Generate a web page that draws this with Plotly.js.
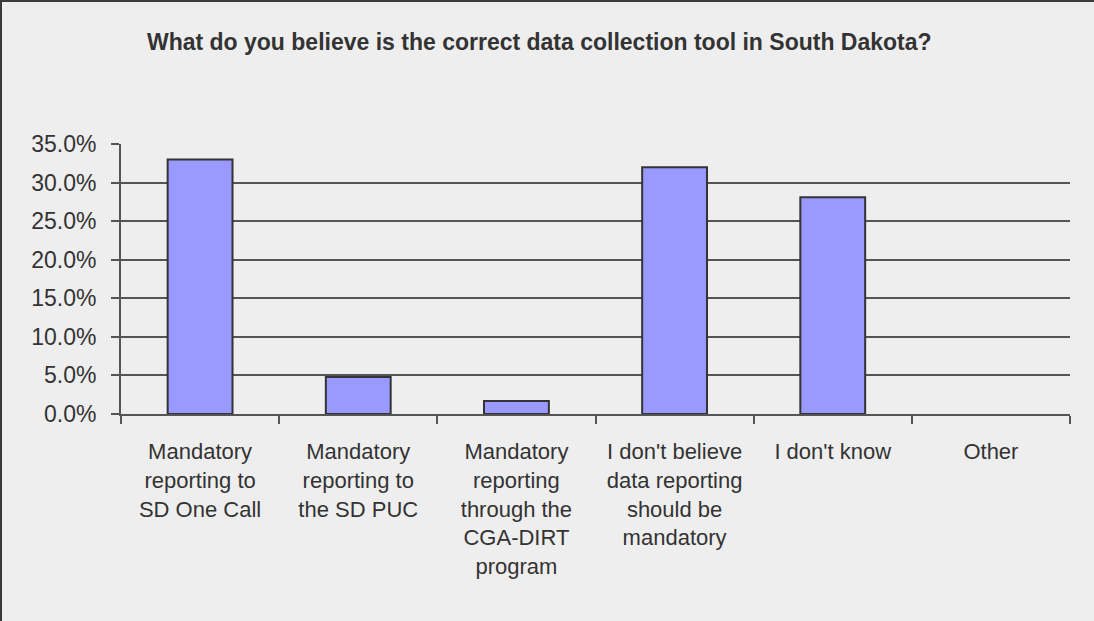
<!DOCTYPE html>
<html>
<head>
<meta charset="utf-8">
<script src="https://cdn.plot.ly/plotly-3.0.1.min.js"></script>
<style>
  html, body { margin: 0; padding: 0; background: #eeeeee; }
  #chart { width: 1092px; height: 619px; border-top: 2px solid #3a3a3a; border-left: 2px solid #3a3a3a; }
</style>
</head>
<body>
<div id="chart"></div>
<script>
const categories = [
  "Mandatory<br>reporting to<br>SD One Call",
  "Mandatory<br>reporting to<br>the SD PUC",
  "Mandatory<br>reporting<br>through the<br>CGA-DIRT<br>program",
  "I don't believe<br>data reporting<br>should be<br>mandatory",
  "I don't know",
  "Other"
];
const values = [0.330, 0.048, 0.017, 0.320, 0.281, 0];
const yTickVals = [0, 0.05, 0.10, 0.15, 0.20, 0.25, 0.30, 0.35];
const yTickText = ["0.0%", "5.0%", "10.0%", "15.0%", "20.0%", "25.0%", "30.0%", "35.0%"];
const chartTitle = "What do you believe is the correct data collection tool in South Dakota?";

const trace = {
  type: "bar",
  x: categories,
  y: values,
  marker: {
    color: "#9999ff",
    line: { color: "#333333", width: values.map(v => (v > 0 ? 2 : 0)) }
  },
  hoverinfo: "none"
};

const layout = {
  width: 1092,
  height: 619,
  paper_bgcolor: "#eeeeee",
  plot_bgcolor: "#eeeeee",
  margin: { l: 119, r: 24, t: 142, b: 207 },
  bargap: 0.59,
  showlegend: false,
  font: { family: "Liberation Sans, Arial, sans-serif", color: "#333333", size: 22 },
  title: {
    text: "<b>" + chartTitle + "</b>",
    font: { family: "Liberation Sans, Arial, sans-serif", size: 23, color: "#333333" },
    x: 0.492, xanchor: "center", xref: "container",
    y: 0.936, yanchor: "middle", yref: "container"
  },
  xaxis: {
    type: "category",
    tickson: "boundaries",
    ticks: "outside",
    ticklen: 8,
    tickcolor: "#555555",
    tickwidth: 2,
    showline: true,
    linecolor: "#555555",
    linewidth: 2,
    showgrid: false,
    tickangle: 0,
    tickfont: { size: 22, color: "#333333" },
    ticklabelstandoff: 17,
    fixedrange: true
  },
  yaxis: {
    range: [0, 0.35],
    tickvals: yTickVals,
    ticktext: yTickText,
    ticks: "outside",
    ticklen: 8,
    tickcolor: "#555555",
    tickwidth: 2,
    showline: true,
    linecolor: "#555555",
    linewidth: 2,
    showgrid: true,
    gridcolor: "#555555",
    gridwidth: 2,
    zeroline: false,
    tickfont: { size: 23, color: "#333333" },
    ticklabelstandoff: 10,
    fixedrange: true
  }
};

Plotly.newPlot("chart", [trace], layout, { displayModeBar: false, staticPlot: true });
</script>
</body>
</html>
